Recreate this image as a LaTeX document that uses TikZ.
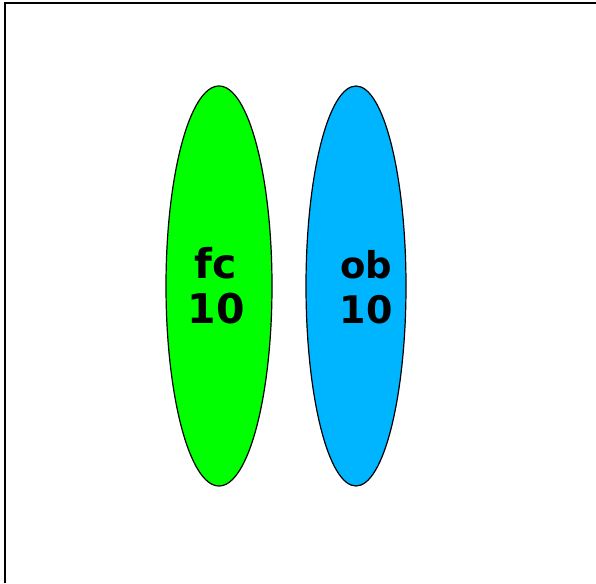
\documentclass[tikz,border=0pt]{standalone}
\usepackage{fontspec}
\setmainfont{DejaVu Sans}
\usetikzlibrary{shapes.geometric}
\definecolor{fcgreen}{RGB}{0,255,0}
\definecolor{obblue}{RGB}{0,181,255}
\begin{document}
\begin{tikzpicture}[x=1pt, y=-1pt,
    blob/.style={ellipse, draw=black, line width=1.2pt, inner sep=0pt, minimum height=400pt},
    lbl/.style={align=center, inner sep=0pt}]
    \useasboundingbox (0,0) rectangle (596,583);
    % Frame
    \draw[line width=2.4pt] (5,583) -- (5,3) -- (596,3);

    % Ellipses
    \node[blob, fill=fcgreen, minimum width=106pt] (fc) at (219,286) {};
    \node[blob, fill=obblue, minimum width=100pt] (ob) at (356,286) {};

    % Labels
    \node[lbl, font=\bfseries\fontsize{41}{45}\selectfont] (fclbl) at ([xshift=-3pt]fc.center) {fc\\10};
    \node[lbl, font=\bfseries\fontsize{38}{45}\selectfont] (oblbl) at ([xshift=10pt, yshift=-1pt]ob.center) {{\fontsize{37}{45}\selectfont ob}\\10};
\end{tikzpicture}
\end{document}
